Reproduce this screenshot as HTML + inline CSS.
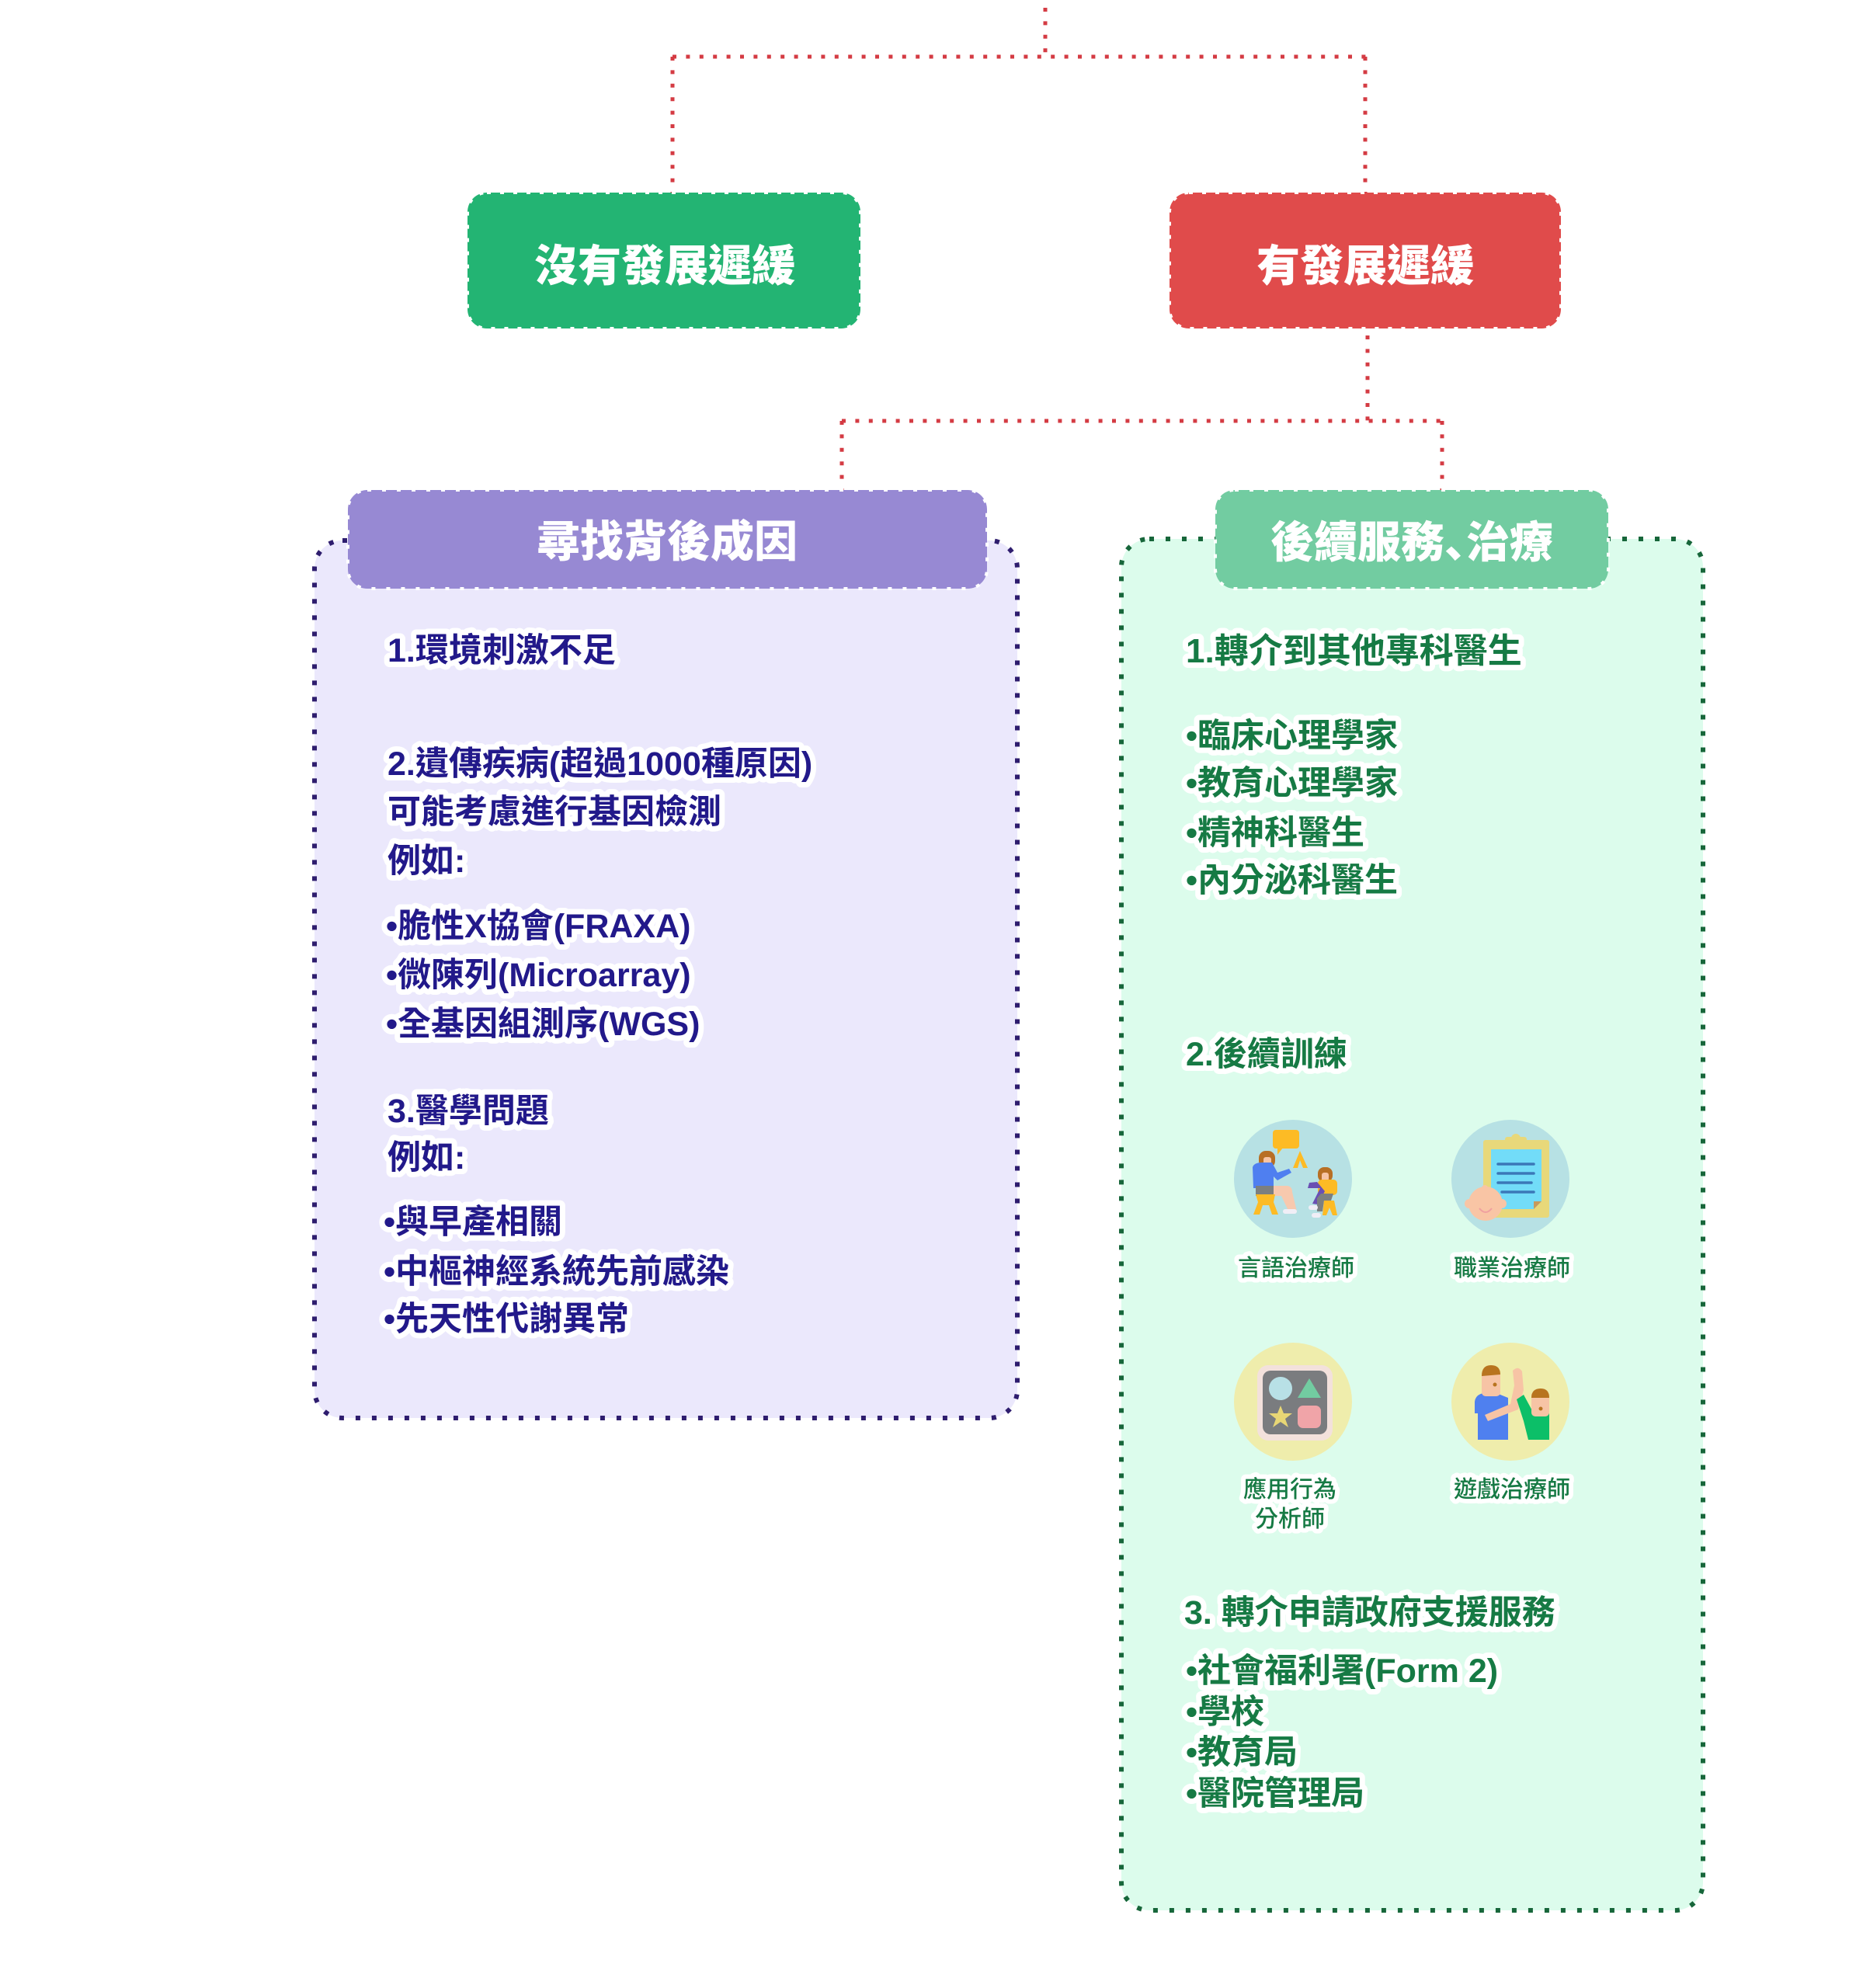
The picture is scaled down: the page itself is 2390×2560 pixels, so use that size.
<!DOCTYPE html>
<html><head><meta charset="utf-8">
<style>
html,body{margin:0;padding:0;background:#fff;}
svg{display:block;}
.t{font-family:"Liberation Sans","Noto Sans CJK TC",sans-serif;}
.p{fill:#22198a;font-size:43px;font-weight:700;stroke:#fff;stroke-width:14px;stroke-linejoin:round;paint-order:stroke fill;}
.g{fill:#167a44;font-size:43px;font-weight:700;stroke:#fff;stroke-width:14px;stroke-linejoin:round;paint-order:stroke fill;}
.lb{fill:#167a44;font-size:30px;font-weight:500;stroke:#fff;stroke-width:12px;stroke-linejoin:round;paint-order:stroke fill;}
.h{fill:#fff;font-size:56px;font-weight:900;}
.sc{font-family:"Liberation Sans","Noto Sans CJK SC",sans-serif;}
</style></head>
<body>
<svg width="2390" height="2560" viewBox="0 0 2390 2560" xmlns="http://www.w3.org/2000/svg">
<rect width="2390" height="2560" fill="#fff"/>
<!-- connectors -->
<g stroke="#d43b43" stroke-width="5" stroke-dasharray="5 12.4" fill="none">
  <path d="M1346 10 V73"/>
  <path d="M866 73 H1760"/>
  <path d="M866 73 V248"/>
  <path d="M1758 73 V248"/>
  <path d="M1761 432 V542"/>
  <path d="M1084 542 H1860"/>
  <path d="M1084 542 V631"/>
  <path d="M1857 542 V631"/>
</g>
<!-- top boxes -->
<rect x="602" y="248" width="506" height="175" rx="25" fill="#23b473" stroke="#fff" stroke-width="4" stroke-dasharray="5 12"/>
<rect x="1506" y="248" width="504" height="175" rx="25" fill="#e04b4b" stroke="#fff" stroke-width="4" stroke-dasharray="5 12"/>
<text class="t h" x="856" y="362" text-anchor="middle">沒有發展遲緩</text>
<text class="t h" x="1758" y="362" text-anchor="middle">有發展遲緩</text>

<!-- panels -->
<rect x="405" y="696" width="905" height="1130" rx="36" fill="#ebe8fc" stroke="#2e1d6e" stroke-width="6" stroke-dasharray="6 15"/>
<rect x="1444" y="694" width="749" height="1766" rx="36" fill="#dcfcec" stroke="#17663a" stroke-width="6" stroke-dasharray="6 15"/>

<!-- headers -->
<rect x="448" y="631" width="823" height="127" rx="25" fill="#9789d3" stroke="#fff" stroke-width="4" stroke-dasharray="5 14"/>
<rect x="1565" y="631" width="506" height="127" rx="25" fill="#72cca1" stroke="#fff" stroke-width="4" stroke-dasharray="5 14"/>
<text class="t h" x="859" y="717" text-anchor="middle">尋找背後成因</text>
<text class="t h" x="1818" y="718" text-anchor="middle">後續服務<tspan class="sc">、</tspan><tspan dx="-28">治療</tspan></text>

<!-- purple panel text -->
<text class="t p" x="499" y="852">1.環境刺激不足</text>
<text class="t p" x="499" y="998">2.遺傳疾病(超過1000種原因)</text>
<text class="t p" x="499" y="1060">可能考慮進行基因檢測</text>
<text class="t p" x="499" y="1123">例如:</text>
<text class="t p" x="497" y="1207">•脆性X協會(FRAXA)</text>
<text class="t p" x="497" y="1270">•微陳列(Microarray)</text>
<text class="t p" x="497" y="1333">•全基因組測序(WGS)</text>
<text class="t p" x="499" y="1445">3.醫學問題</text>
<text class="t p" x="499" y="1505">例如:</text>
<text class="t p" x="494" y="1588">•與早產相關</text>
<text class="t p" x="494" y="1652">•中樞神經系統先前感染</text>
<text class="t p" x="494" y="1713">•先天性代謝異常</text>

<!-- green panel text -->
<text class="t g" x="1527" y="853" style="font-size:44px">1.轉介到其他專科醫生</text>
<text class="t g" x="1527" y="962">•臨床心理學家</text>
<text class="t g" x="1527" y="1023">•教育心理學家</text>
<text class="t g" x="1527" y="1087">•精神科醫生</text>
<text class="t g" x="1527" y="1148">•內分泌科醫生</text>
<text class="t g" x="1527" y="1372">2.後續訓練</text>
<text class="t g" x="1525" y="2091">3. 轉介申請政府支援服務</text>
<text class="t g" x="1527" y="2166">•社會福利署(Form 2)</text>
<text class="t g" x="1527" y="2219">•學校</text>
<text class="t g" x="1527" y="2271">•教育局</text>
<text class="t g" x="1527" y="2324">•醫院管理局</text>

<!-- icon 1: speech therapist -->
<circle cx="1665" cy="1518" r="76" fill="#b7e1e4"/>
<rect x="1639" y="1455" width="34" height="24" rx="4" fill="#fdbb25"/>
<polygon points="1645,1478 1652,1478 1645,1487" fill="#fdbb25"/>
<polygon points="1665,1504 1674,1482 1684,1504 1678,1504 1674,1494 1671,1504" fill="#fdbb25"/>
<rect x="1621" y="1482" width="21" height="22" rx="9" fill="#b86f24"/>
<rect x="1627" y="1490" width="10" height="14" rx="3" fill="#f7c4a5"/>
<path d="M1613 1503 Q1615 1497 1625 1497 L1638 1497 L1645 1510 L1660 1505 L1663 1510 L1645 1520 L1640 1515 L1640 1530 L1614 1530 Z" fill="#4f7ff0"/>
<rect x="1617" y="1527" width="26" height="13" fill="#7c7f80"/>
<path d="M1640 1527 L1658 1527 Q1664 1528 1664 1535 L1670 1560 L1660 1561 L1650 1540 L1640 1540 Z" fill="#f7c9ae"/>
<rect x="1652" y="1557" width="18" height="6" rx="3" fill="#f0eef6"/>
<path d="M1617 1538 L1642 1538 L1640 1548 L1646 1564 L1638 1564 L1634 1552 L1626 1552 L1622 1564 L1614 1564 L1620 1548 Z" fill="#fdbb25"/>
<rect x="1697" y="1503" width="19" height="19" rx="8" fill="#b86f24"/>
<rect x="1702" y="1510" width="9" height="11" rx="3" fill="#f7c4a5"/>
<rect x="1697" y="1519" width="25" height="20" rx="5" fill="#fdbb25"/>
<path d="M1696 1522 L1686 1523 L1684 1530 L1700 1530 L1690 1550 L1697 1551 L1706 1534 Z" fill="#6a4fb3"/>
<path d="M1701 1537 L1717 1537 L1714 1546 L1705 1546 L1703 1560 L1696 1560 L1696 1543 Z" fill="#7c7f80"/>
<path d="M1705 1546 L1718 1546 L1722 1565 L1716 1565 L1712 1555 L1708 1565 L1703 1565 Z" fill="#fdbb25"/>
<rect x="1685" y="1552" width="12" height="6" rx="3" fill="#f0eef6"/>
<rect x="1689" y="1562" width="12" height="6" rx="3" fill="#f0eef6"/>

<!-- icon 2: occupational therapist -->
<circle cx="1945" cy="1518" r="76" fill="#b7e1e4"/>
<rect x="1910" y="1468" width="85" height="100" rx="3" fill="#e8d87a"/>
<circle cx="1952" cy="1466" r="6" fill="#e8d87a"/>
<rect x="1938" y="1464" width="28" height="10" rx="3" fill="#e8d87a"/>
<path d="M1920 1480 L1985 1480 L1985 1547 L1975 1557 L1920 1557 Z" fill="#72dcf8"/>
<path d="M1975 1557 L1985 1547 L1975 1547 Z" fill="#c79a5b"/>
<g stroke="#3b78b8" stroke-width="3.5" stroke-linecap="round">
  <line x1="1929" y1="1499" x2="1975" y2="1499"/>
  <line x1="1929" y1="1511" x2="1975" y2="1511"/>
  <line x1="1929" y1="1523" x2="1972" y2="1523"/>
  <line x1="1934" y1="1535" x2="1975" y2="1535"/>
</g>
<circle cx="1913" cy="1550" r="22" fill="#f9c5a5"/>
<circle cx="1892" cy="1550" r="6" fill="#f9c5a5"/>
<circle cx="1934" cy="1550" r="6" fill="#f9c5a5"/>
<circle cx="1912" cy="1530" r="4" fill="#f9c5a5"/>
<path d="M1905 1556 Q1913 1566 1921 1556" stroke="#f0a0a0" stroke-width="2" fill="none"/>

<!-- icon 3: ABA -->
<circle cx="1665" cy="1805" r="76" fill="#efedac"/>
<rect x="1619" y="1758" width="97" height="97" rx="14" fill="#f3e1dc"/>
<rect x="1626" y="1765" width="83" height="82" rx="10" fill="#7a7c7f"/>
<circle cx="1649" cy="1788" r="15" fill="#b8e0e6"/>
<path d="M1654 1774 A15 15 0 0 1 1654 1802 A15 15 0 0 0 1654 1774 Z" fill="#cfe6df"/>
<polygon points="1686,1775 1701,1800 1671,1800" fill="#72cca1"/>
<polygon points="1649,1810 1653,1820 1664,1820 1655,1827 1659,1838 1649,1831 1639,1838 1643,1827 1634,1820 1645,1820" fill="#e8d675"/>
<rect x="1671" y="1810" width="30" height="29" rx="7" fill="#f0a4a8"/>

<!-- icon 4: play therapist -->
<circle cx="1945" cy="1805" r="76" fill="#efedac"/>
<path d="M1899 1805 Q1900 1796 1910 1794 L1922 1792 L1932 1796 L1942 1800 L1942 1854 L1903 1854 L1903 1820 L1899 1820 Z" fill="#4f80ef"/>
<rect x="1908" y="1764" width="24" height="34" rx="5" fill="#f7c4a5"/>
<path d="M1908 1772 Q1908 1758 1920 1758 Q1932 1758 1932 1770 L1908 1772 Z" fill="#b8741f"/>
<circle cx="1925" cy="1783" r="2.5" fill="#b8741f"/>
<path d="M1912 1822 L1945 1808 L1950 1784 L1948 1765 Q1955 1758 1960 1766 L1962 1790 L1955 1815 L1916 1830 Z" fill="#f7c4a5"/>
<path d="M1953 1802 L1962 1796 L1975 1820 L1995 1820 L1995 1854 L1968 1854 L1962 1830 Z" fill="#0cbf68"/>
<rect x="1972" y="1792" width="23" height="32" rx="5" fill="#f7c4a5"/>
<path d="M1972 1800 Q1972 1788 1984 1788 Q1995 1788 1995 1800 Z" fill="#b8741f"/>
<circle cx="1984" cy="1814" r="2.5" fill="#b8741f"/>

<!-- icon labels -->
<text class="t lb" x="1669" y="1643" text-anchor="middle">言語治療師</text>
<text class="t lb" x="1947" y="1643" text-anchor="middle">職業治療師</text>
<text class="t lb" x="1661" y="1928" text-anchor="middle">應用行為</text>
<text class="t lb" x="1661" y="1966" text-anchor="middle">分析師</text>
<text class="t lb" x="1947" y="1928" text-anchor="middle">遊戲治療師</text>
</svg>
</body></html>
